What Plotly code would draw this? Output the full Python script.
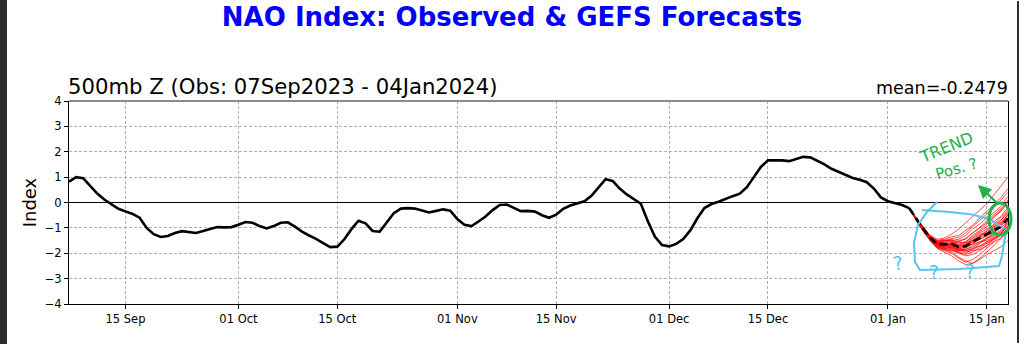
import pandas as pd
import plotly.graph_objects as go

# ---------------- data ----------------
obs_start = "2023-09-07"
nao_observed = [
    0.82, 1.00, 0.96, 0.65, 0.35, 0.12, -0.05, -0.25, -0.35, -0.45,
    -0.60, -1.00, -1.25, -1.36, -1.32, -1.20, -1.13, -1.16, -1.20, -1.12,
    -1.03, -0.97, -0.98, -0.97, -0.88, -0.77, -0.80, -0.93, -1.02, -0.93,
    -0.80, -0.78, -0.95, -1.15, -1.30, -1.43, -1.60, -1.76, -1.74, -1.45,
    -1.05, -0.72, -0.82, -1.12, -1.15, -0.80, -0.42, -0.24, -0.22, -0.24,
    -0.33, -0.39, -0.33, -0.27, -0.32, -0.65, -0.88, -0.93, -0.75, -0.55,
    -0.30, -0.10, -0.08, -0.20, -0.34, -0.33, -0.36, -0.50, -0.60, -0.48,
    -0.25, -0.12, -0.05, 0.05, 0.26, 0.60, 0.92, 0.85, 0.55, 0.32,
    0.15, -0.05, -0.75, -1.35, -1.68, -1.73, -1.63, -1.44, -1.10, -0.62,
    -0.22, -0.06, 0.03, 0.15, 0.25, 0.35, 0.60, 1.00, 1.40, 1.66,
    1.67, 1.66, 1.63, 1.72, 1.80, 1.78, 1.65, 1.50, 1.33, 1.20,
    1.08, 0.97, 0.90, 0.80, 0.55, 0.20, 0.05, -0.03, -0.10, -0.22,
]

fc_start = "2024-01-04"
gefs_mean = [-0.22, -0.65, -1.05, -1.40, -1.63, -1.65, -1.63, -1.75,
             -1.72, -1.55, -1.40, -1.28, -1.12, -0.95, -0.62]

gefs_members = [
    [-0.22, -0.60, -0.98, -1.30, -1.45, -1.40, -1.25, -1.05, -0.80, -0.55, -0.30, -0.05, 0.30, 0.65, 1.00],
    [-0.22, -0.62, -1.00, -1.35, -1.50, -1.45, -1.35, -1.30, -1.10, -0.90, -0.60, -0.35, -0.10, 0.20, 0.55],
    [-0.22, -0.65, -1.05, -1.38, -1.60, -1.55, -1.50, -1.45, -1.30, -1.05, -0.85, -0.60, -0.40, -0.15, 0.25],
    [-0.22, -0.68, -1.08, -1.45, -1.70, -1.75, -1.60, -1.50, -1.45, -1.20, -1.00, -0.80, -0.55, -0.35, 0.00],
    [-0.22, -0.64, -1.02, -1.40, -1.62, -1.60, -1.70, -1.85, -1.75, -1.50, -1.30, -1.10, -0.85, -0.60, -0.30],
    [-0.22, -0.66, -1.07, -1.42, -1.68, -1.80, -1.85, -1.95, -2.00, -1.85, -1.60, -1.40, -1.20, -0.95, -0.60],
    [-0.22, -0.70, -1.12, -1.50, -1.80, -1.90, -2.00, -2.20, -2.35, -2.25, -2.05, -1.80, -1.55, -1.25, -0.90],
    [-0.22, -0.63, -1.00, -1.36, -1.55, -1.62, -1.58, -1.70, -1.65, -1.45, -1.25, -1.20, -1.00, -0.80, -0.50],
    [-0.22, -0.67, -1.10, -1.45, -1.72, -1.78, -1.80, -1.90, -1.85, -1.70, -1.55, -1.50, -1.35, -1.20, -0.95],
    [-0.22, -0.62, -1.03, -1.38, -1.58, -1.50, -1.45, -1.60, -1.55, -1.35, -1.15, -0.95, -0.75, -0.55, -0.20],
    [-0.22, -0.69, -1.10, -1.48, -1.75, -1.85, -1.95, -2.15, -2.30, -2.40, -2.25, -2.05, -1.90, -1.75, -1.50],
    [-0.22, -0.65, -1.06, -1.40, -1.65, -1.70, -1.68, -1.80, -1.78, -1.60, -1.45, -1.30, -1.15, -0.90, -0.45],
    [-0.22, -0.60, -0.98, -1.32, -1.50, -1.48, -1.52, -1.65, -1.55, -1.30, -1.10, -0.85, -0.60, -0.30, 0.10],
    [-0.22, -0.71, -1.14, -1.52, -1.82, -1.95, -2.10, -2.30, -2.45, -2.40, -2.20, -1.95, -1.70, -1.40, -1.10],
    [-0.22, -0.66, -1.05, -1.42, -1.64, -1.66, -1.70, -1.75, -1.70, -1.65, -1.55, -1.40, -1.30, -1.15, -0.85],
    [-0.22, -0.68, -1.08, -1.44, -1.66, -1.72, -1.62, -1.55, -1.60, -1.50, -1.35, -1.20, -0.95, -0.70, -0.35],
    [-0.22, -0.64, -1.04, -1.38, -1.60, -1.66, -1.75, -1.85, -1.90, -1.80, -1.70, -1.55, -1.40, -1.30, -1.05],
    [-0.22, -0.67, -1.09, -1.46, -1.70, -1.76, -1.72, -1.88, -1.95, -1.90, -1.85, -1.70, -1.55, -1.40, -1.20],
    [-0.22, -0.63, -1.01, -1.35, -1.58, -1.57, -1.55, -1.68, -1.60, -1.40, -1.20, -1.05, -0.90, -0.70, -0.40],
    [-0.22, -0.66, -1.06, -1.43, -1.67, -1.70, -1.78, -1.90, -1.85, -1.75, -1.60, -1.45, -1.25, -1.10, -0.80],
    [-0.22, -0.61, -0.99, -1.33, -1.52, -1.50, -1.42, -1.38, -1.20, -0.95, -0.70, -0.45, -0.20, 0.10, 0.40],
    [-0.22, -0.70, -1.13, -1.50, -1.78, -1.86, -1.88, -2.00, -2.10, -2.05, -1.90, -1.70, -1.45, -1.20, -0.95],
    [-0.22, -0.65, -1.04, -1.41, -1.63, -1.64, -1.60, -1.72, -1.68, -1.50, -1.32, -1.15, -0.98, -0.78, -0.50],
    [-0.22, -0.67, -1.07, -1.44, -1.69, -1.74, -1.82, -1.98, -2.05, -1.95, -1.78, -1.62, -1.45, -1.28, -1.00],
    [-0.22, -0.62, -1.02, -1.37, -1.56, -1.52, -1.48, -1.55, -1.42, -1.20, -0.98, -0.72, -0.50, -0.25, 0.05],
    [-0.22, -0.68, -1.10, -1.47, -1.73, -1.82, -1.76, -1.82, -1.90, -1.85, -1.72, -1.60, -1.42, -1.25, -0.70],
    [-0.22, -0.64, -1.03, -1.39, -1.61, -1.63, -1.66, -1.78, -1.72, -1.55, -1.38, -1.25, -1.05, -0.88, -0.65],
    [-0.22, -0.69, -1.11, -1.49, -1.76, -1.84, -1.90, -1.92, -1.80, -1.62, -1.45, -1.32, -1.18, -1.00, -0.75],
]

tick_dates = ["2023-09-15", "2023-10-01", "2023-10-15", "2023-11-01", "2023-11-15",
              "2023-12-01", "2023-12-15", "2024-01-01", "2024-01-15"]
tick_labels = ["15 Sep", "01 Oct", "15 Oct", "01 Nov", "15 Nov",
               "01 Dec", "15 Dec", "01 Jan", "15 Jan"]
y_ticks = [-4, -3, -2, -1, 0, 1, 2, 3, 4]
y_tick_labels = ["\u22124", "\u22123", "\u22122", "\u22121", "0", "1", "2", "3", "4"]

title_text = "NAO Index: Observed & GEFS Forecasts"
subtitle_text = "500mb Z (Obs: 07Sep2023 - 04Jan2024)"
mean_text = "mean=-0.2479"

x_range = ["2023-09-07", "2024-01-18"]

# ---------------- figure ----------------
W, H = 1024, 344
ML, MR, MT, MB = 69, 16, 101, 40
PW, PH = W - ML - MR, H - MT - MB


def px(x):
    return (x - ML) / PW


def py(y):
    return (H - MB - y) / PH


obs_dates = pd.date_range(obs_start, periods=len(nao_observed), freq="D")
fc_dates = pd.date_range(fc_start, periods=len(gefs_mean), freq="D")

fig = go.Figure()

for m in gefs_members:
    fig.add_trace(go.Scatter(x=fc_dates, y=m, mode="lines",
                             line=dict(color="red", width=0.7),
                             hoverinfo="skip", showlegend=False))

fig.add_trace(go.Scatter(x=fc_dates, y=gefs_mean, mode="lines",
                         line=dict(color="black", width=2.6, dash="8px,4px"),
                         showlegend=False))

fig.add_trace(go.Scatter(x=obs_dates, y=nao_observed, mode="lines",
                         line=dict(color="black", width=2.6),
                         showlegend=False))

blue = "#55c6f2"
green = "#22b24c"

shapes = [
    dict(type="line", xref="paper", yref="paper", x0=0, x1=1, y0=1, y1=1,
         line=dict(color="#8a8a8a", width=2)),
    dict(type="rect", xref="paper", yref="paper", x0=px(0.5), x1=px(7), y0=py(H - 1), y1=py(1),
         line=dict(width=0), fillcolor="#2e2e2e", layer="above"),
    dict(type="rect", xref="paper", yref="paper", x0=px(1017), x1=px(1019), y0=py(H - 1), y1=py(1),
         line=dict(width=0), fillcolor="#2e2e2e", layer="above"),
]

blue_pts = [(937, 202), (927, 212), (918, 225), (914, 243), (915, 262), (920, 270),
            (960, 269), (999, 266), (1002, 256), (1004, 243), (1006, 233)]
path = "M " + " L ".join(f"{px(x):.5f},{py(y):.5f}" for x, y in blue_pts)
shapes.append(dict(type="path", xref="paper", yref="paper", path=path,
                   line=dict(color=blue, width=2)))
top_pts = [(922, 210), (950, 212), (972, 214.5), (990, 219.5), (1007, 230)]
path2 = "M " + " L ".join(f"{px(x):.5f},{py(y):.5f}" for x, y in top_pts)
shapes.append(dict(type="path", xref="paper", yref="paper", path=path2,
                   line=dict(color=blue, width=2)))
shapes.append(dict(type="circle", xref="paper", yref="paper",
                   x0=px(989), x1=px(1011), y0=py(235), y1=py(203),
                   line=dict(color=green, width=3)))

annotations = [
    dict(text=subtitle_text, xref="paper", yref="paper", x=px(66), y=py(86),
         xanchor="left", yanchor="middle", showarrow=False,
         font=dict(family="DejaVu Sans", size=21.2, color="black")),
    dict(text=mean_text, xref="paper", yref="paper", x=px(1010), y=py(88),
         xanchor="right", yanchor="middle", showarrow=False,
         font=dict(family="DejaVu Sans", size=17.5, color="black")),
    dict(text="TREND", xref="paper", yref="paper", x=px(946), y=py(147),
         xanchor="center", yanchor="middle",
         showarrow=False, textangle=-22,
         font=dict(family="DejaVu Sans", size=16, color=green)),
    dict(text="Pos. ?", xref="paper", yref="paper", x=px(956), y=py(169),
         xanchor="center", yanchor="middle",
         showarrow=False, textangle=-16,
         font=dict(family="DejaVu Sans", size=15, color=green)),
    dict(text="", xref="paper", yref="paper", x=px(978), y=py(185),
         showarrow=True, ax=20, ay=19, arrowhead=2, arrowsize=1.2,
         arrowwidth=2.2, arrowcolor=green),
    dict(text="?", xref="paper", yref="paper", x=px(907), y=py(277),
         showarrow=False, textangle=-10,
         font=dict(family="DejaVu Sans", size=19, color=blue)),
    dict(text="?", xref="paper", yref="paper", x=px(941), y=py(285),
         showarrow=False,
         font=dict(family="DejaVu Sans", size=19, color=blue)),
    dict(text="?", xref="paper", yref="paper", x=px(977), y=py(284),
         showarrow=False,
         font=dict(family="DejaVu Sans", size=19, color=blue)),
]

fig.update_layout(
    width=W, height=H, autosize=False,
    margin=dict(l=ML, r=MR, t=MT, b=MB, pad=0),
    paper_bgcolor="white", plot_bgcolor="white",
    title=dict(text=title_text, x=0.5, xref="container", xanchor="center",
               y=1 - 16.5 / H, yref="container", yanchor="middle",
               font=dict(family="DejaVu Sans", size=26, color="#0000ff", weight="bold")),
    shapes=shapes, annotations=annotations,
    showlegend=False,
)

fig.update_xaxes(
    type="date", range=x_range,
    tickvals=tick_dates, ticktext=tick_labels,
    ticks="outside", ticklen=4, tickwidth=1, tickcolor="black",
    tickfont=dict(family="DejaVu Sans", size=11.5, color="black"),
    showline=True, linecolor="black", linewidth=1.2, mirror=False,
    showgrid=True, gridcolor="#b0b0b0", gridwidth=0.8, griddash="3px,2px",
    zeroline=False,
)
fig.update_yaxes(
    range=[-4, 4], tickvals=y_ticks, ticktext=y_tick_labels,
    ticks="outside", ticklen=4, tickwidth=1, tickcolor="black",
    tickfont=dict(family="DejaVu Sans", size=11.5, color="black"),
    showline=True, linecolor="black", linewidth=1.2, mirror=True,
    showgrid=True, gridcolor="#b0b0b0", gridwidth=0.8, griddash="3px,2px",
    zeroline=True, zerolinecolor="black", zerolinewidth=1,
    title=dict(text="Index", standoff=3,
               font=dict(family="DejaVu Sans", size=18, color="black")),
)

frame_js = (
    "document.body.style.margin='0';"
    "document.body.style.overflow='hidden';"
    "var s=document.createElement('div');"
    "s.style.cssText='position:fixed;left:0;top:0;width:7px;height:100%;"
    "background:#2e2e2e;z-index:10;pointer-events:none';"
    "document.body.appendChild(s);"
)

fig.write_html("out.html", config={"displayModeBar": False}, post_script=frame_js)
